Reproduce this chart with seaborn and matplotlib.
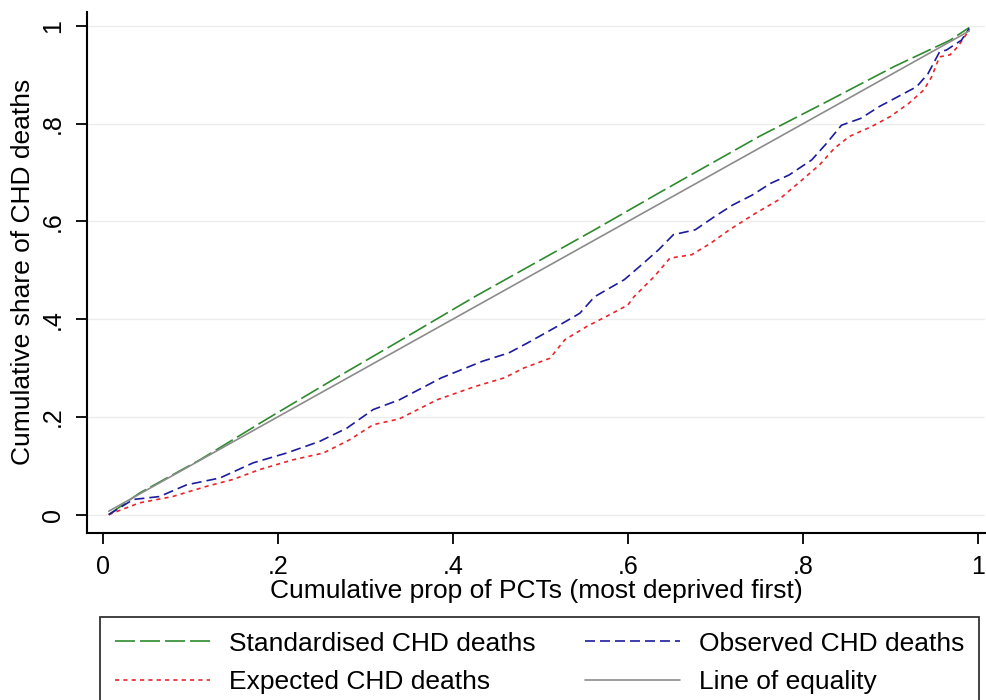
import pandas as pd
import seaborn as sns
import matplotlib.pyplot as plt

# cumulative share curves (x = cumulative prop of PCTs)
std_x = [0.007, 0.042, 0.111, 0.187, 0.263, 0.332, 0.425, 0.562, 0.639, 0.750, 0.827, 0.904, 0.968, 0.990]
std_y = [0.000, 0.044, 0.112, 0.195, 0.276, 0.348, 0.446, 0.583, 0.662, 0.774, 0.845, 0.917, 0.971, 0.997]

obs_x = [0.007, 0.035, 0.065, 0.096, 0.134, 0.172, 0.210, 0.248, 0.279, 0.309, 0.339,
         0.387, 0.434, 0.464, 0.485, 0.519, 0.545, 0.562, 0.596, 0.618, 0.635, 0.652,
         0.677, 0.699, 0.720, 0.742, 0.763, 0.784, 0.810, 0.827, 0.844, 0.866, 0.887,
         0.908, 0.930, 0.943, 0.956, 0.964, 0.981, 0.990]
obs_y = [0.000, 0.031, 0.037, 0.061, 0.075, 0.106, 0.126, 0.150, 0.177, 0.215, 0.235,
         0.280, 0.314, 0.331, 0.351, 0.385, 0.412, 0.446, 0.481, 0.515, 0.542, 0.573,
         0.583, 0.610, 0.634, 0.654, 0.678, 0.695, 0.726, 0.760, 0.797, 0.811, 0.835,
         0.855, 0.876, 0.903, 0.947, 0.951, 0.971, 0.995]

exp_x = [0.007, 0.042, 0.080, 0.119, 0.149, 0.179, 0.217, 0.252, 0.282, 0.309, 0.339,
         0.382, 0.425, 0.459, 0.481, 0.511, 0.528, 0.553, 0.579, 0.600, 0.607, 0.630,
         0.648, 0.673, 0.695, 0.716, 0.746, 0.772, 0.797, 0.819, 0.836, 0.853, 0.878,
         0.900, 0.921, 0.938, 0.947, 0.956, 0.968, 0.977, 0.990]
exp_y = [0.000, 0.024, 0.037, 0.058, 0.072, 0.092, 0.112, 0.126, 0.153, 0.184, 0.196,
         0.235, 0.262, 0.280, 0.300, 0.320, 0.358, 0.385, 0.409, 0.429, 0.446, 0.487,
         0.525, 0.532, 0.556, 0.583, 0.617, 0.644, 0.682, 0.716, 0.750, 0.774, 0.794,
         0.815, 0.842, 0.869, 0.896, 0.937, 0.941, 0.958, 0.992]

eq_x = [0.007, 0.990]
eq_y = [0.007, 0.990]

ticks = [0, 0.2, 0.4, 0.6, 0.8, 1]
tick_labels = ["0", ".2", ".4", ".6", ".8", "1"]

sns.set_style("white")
plt.rcParams["font.family"] = ["Liberation Sans", "DejaVu Sans"]
plt.rcParams.update({"text.color": "black", "axes.labelcolor": "black",
                     "xtick.color": "black", "ytick.color": "black"})
fs = 19

fig = plt.figure(figsize=(9.87, 7.0), dpi=100)
ax = fig.add_axes([0.088, 0.239, 0.910, 0.744])

lw = 1.2
sns.lineplot(x=std_x, y=std_y, ax=ax, sort=False, color="#2e8b2e", lw=lw,
             label="Standardised CHD deaths").lines[-1].set_dashes((12, 3))
sns.lineplot(x=exp_x, y=exp_y, ax=ax, sort=False, color="#e8262b", lw=lw,
             label="Expected CHD deaths").lines[-1].set_dashes((2.5, 2.5))
sns.lineplot(x=obs_x, y=obs_y, ax=ax, sort=False, color="#1c1c9e", lw=lw,
             label="Observed CHD deaths").lines[-1].set_dashes((6, 3))
sns.lineplot(x=eq_x, y=eq_y, ax=ax, sort=False, color="#8c8c8c", lw=lw,
             label="Line of equality")

ax.set_xlim(-0.018, 1.008)
ax.set_ylim(-0.037, 1.029)
ax.set_xticks(ticks)
ax.set_xticklabels(tick_labels)
ax.set_yticks(ticks)
ax.set_yticklabels(tick_labels, rotation=90, va="center")
ax.tick_params(axis="both", direction="out", length=8, width=1.3, labelsize=18,
               bottom=True, left=True, color="black", labelcolor="black", pad=8)
ax.yaxis.grid(True, color="#ececec", lw=1)
ax.xaxis.grid(False)
for side in ["top", "right"]:
    ax.spines[side].set_visible(False)
for side in ["left", "bottom"]:
    ax.spines[side].set_color("black")
    ax.spines[side].set_linewidth(1.5)

ax.set_xlabel("Cumulative prop of PCTs (most deprived first)", fontsize=fs, labelpad=0)
ax.set_ylabel("Cumulative share of CHD deaths", fontsize=fs, labelpad=4)

handles, labels = ax.get_legend_handles_labels()
ax.get_legend().remove()
leg = fig.legend(handles, labels, loc="upper left", ncol=2, mode="expand",
                 bbox_to_anchor=(100 / 987, 1 - 617 / 700, 879 / 987, 0),
                 fontsize=fs, frameon=True, fancybox=False, edgecolor="black",
                 handlelength=3.6, handletextpad=0.72, borderaxespad=0,
                 labelspacing=0.55, borderpad=0.55)
leg.get_frame().set_linewidth(1.3)

fig.savefig("out.png", dpi=100)
